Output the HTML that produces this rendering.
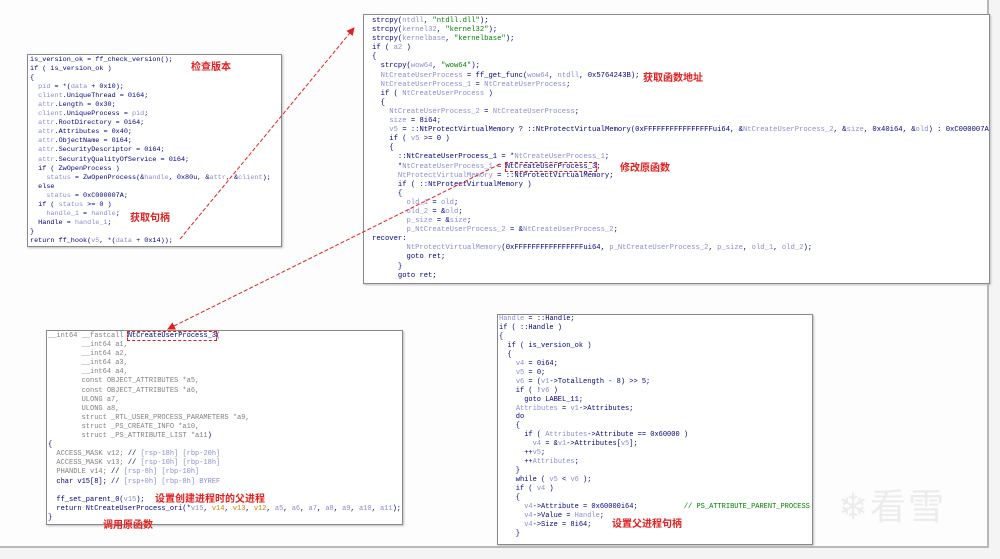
<!DOCTYPE html>
<html><head><meta charset="utf-8"><style>
body{margin:0;width:1000px;height:559px;background:#f4f4f4;position:relative;overflow:hidden;font-family:"Liberation Mono",monospace}
.frame{position:absolute;left:0;top:0;width:987px;height:546px;background:#fdfdfd;border-right:2px solid #b8b8b8;border-bottom:2px solid #b8b8b8}
.box{position:absolute;background:#fff;border:1px solid #8a8a8a;box-shadow:1px 1px 2px #bbb;white-space:pre;color:#000080;overflow:hidden}
.v{color:#8c8cd0}
.g{color:#008000}
.o{color:#d08000}
.gr{color:#808080}
.lab{position:absolute;color:#e02020;font-weight:bold;font-size:10px;font-family:"Liberation Sans","Noto Sans CJK SC",sans-serif;white-space:nowrap}
.hl{outline:1px dashed #e02020;outline-offset:0px}
</style></head><body>
<div class="frame"></div>

<div class="box" style="left:27px;top:54px;width:251px;height:190px;font-size:6.8px;line-height:9.05px;padding:1px 0 0 2px">is_version_ok = ff_check_version();
if ( is_version_ok )
{
  <span class="v">pid</span> = *(<span class="v">data</span> + 0x10);
  <span class="v">client</span>.UniqueThread = 0i64;
  <span class="v">attr</span>.Length = 0x30;
  <span class="v">client</span>.UniqueProcess = <span class="v">pid</span>;
  <span class="v">attr</span>.RootDirectory = 0i64;
  <span class="v">attr</span>.Attributes = 0x40;
  <span class="v">attr</span>.ObjectName = 0i64;
  <span class="v">attr</span>.SecurityDescriptor = 0i64;
  <span class="v">attr</span>.SecurityQualityOfService = 0i64;
  if ( ZwOpenProcess )
    <span class="v">status</span> = ZwOpenProcess(&amp;<span class="v">handle</span>, 0x80u, &amp;<span class="v">attr</span>, &amp;<span class="v">client</span>);
  else
    <span class="v">status</span> = 0xC000007A;
  if ( <span class="v">status</span> &gt;= 0 )
    <span class="v">handle_1</span> = <span class="v">handle</span>;
  Handle = <span class="v">handle_1</span>;
}
return ff_hook(<span class="v">v5</span>, *(<span class="v">data</span> + 0x14));</div>

<div class="box" style="left:363px;top:14px;width:617px;height:266px;font-size:7.2px;line-height:9.1px;padding:2px 0 0 8px">strcpy(<span class="v">ntdll</span>, <span class="g">"ntdll.dll"</span>);
strcpy(<span class="v">kernel32</span>, <span class="g">"kernel32"</span>);
strcpy(<span class="v">kernelbase</span>, <span class="g">"kernelbase"</span>);
if ( <span class="v">a2</span> )
{
  strcpy(<span class="v">wow64</span>, <span class="g">"wow64"</span>);
  <span class="v">NtCreateUserProcess</span> = ff_get_func(<span class="v">wow64</span>, <span class="v">ntdll</span>, 0x5764243B);
  <span class="v">NtCreateUserProcess_1</span> = <span class="v">NtCreateUserProcess</span>;
  if ( <span class="v">NtCreateUserProcess</span> )
  {
    <span class="v">NtCreateUserProcess_2</span> = <span class="v">NtCreateUserProcess</span>;
    <span class="v">size</span> = 8i64;
    <span class="v">v5</span> = ::NtProtectVirtualMemory ? ::NtProtectVirtualMemory(0xFFFFFFFFFFFFFFFFui64, &amp;<span class="v">NtCreateUserProcess_2</span>, &amp;<span class="v">size</span>, 0x40i64, &amp;<span class="v">old</span>) : 0xC000007A;
    if ( <span class="v">v5</span> &gt;= 0 )
    {
      ::NtCreateUserProcess_1 = *<span class="v">NtCreateUserProcess_1</span>;
      *<span class="v">NtCreateUserProcess_1</span> = <span class="hl">NtCreateUserProcess_3</span>;
      <span class="v">NtProtectVirtualMemory</span> = ::NtProtectVirtualMemory;
      if ( ::NtProtectVirtualMemory )
      {
        <span class="v">old_1</span> = <span class="v">old</span>;
        <span class="v">old_2</span> = &amp;<span class="v">old</span>;
        <span class="v">p_size</span> = &amp;<span class="v">size</span>;
        <span class="v">p_NtCreateUserProcess_2</span> = &amp;<span class="v">NtCreateUserProcess_2</span>;
recover:
        <span class="v">NtProtectVirtualMemory</span>(0xFFFFFFFFFFFFFFFFui64, <span class="v">p_NtCreateUserProcess_2</span>, <span class="v">p_size</span>, <span class="v">old_1</span>, <span class="v">old_2</span>);
        goto ret;
      }
      goto ret;</div>

<div class="box" style="left:46px;top:330px;width:354px;height:192px;font-size:7px;line-height:9.1px;padding:1px 0 0 1px"><span class="gr">__int64 __fastcall </span><span class="hl">NtCreateUserProcess_3</span>(
        <span class="gr">__int64 a1,</span>
        <span class="gr">__int64 a2,</span>
        <span class="gr">__int64 a3,</span>
        <span class="gr">__int64 a4,</span>
        <span class="gr">const OBJECT_ATTRIBUTES *a5,</span>
        <span class="gr">const OBJECT_ATTRIBUTES *a6,</span>
        <span class="gr">ULONG a7,</span>
        <span class="gr">ULONG a8,</span>
        <span class="gr">struct _RTL_USER_PROCESS_PARAMETERS *a9,</span>
        <span class="gr">struct _PS_CREATE_INFO *a10,</span>
        <span class="gr">struct _PS_ATTRIBUTE_LIST *a11</span>)
{
  <span class="gr">ACCESS_MASK v12;</span> // <span class="v">[rsp-18h] [rbp-20h]</span>
  <span class="gr">ACCESS_MASK v13;</span> // <span class="v">[rsp-10h] [rbp-18h]</span>
  <span class="gr">PHANDLE v14;</span> // <span class="v">[rsp-8h] [rbp-10h]</span>
  char v15[8]; // <span class="v">[rsp+0h] [rbp-8h] BYREF</span>

  ff_set_parent_0(<span class="v">v15</span>);
  return NtCreateUserProcess_ori(*<span class="v">v15</span>, <span class="o">v14</span>, <span class="o">v13</span>, <span class="o">v12</span>, <span class="v">a5</span>, <span class="v">a6</span>, <span class="v">a7</span>, <span class="v">a8</span>, <span class="v">a9</span>, <span class="v">a10</span>, <span class="v">a11</span>);
}</div>

<div class="box" style="left:497px;top:314px;width:313px;height:229px;font-size:7px;line-height:8.95px;padding:0 0 0 1px"><span class="v">Handle</span> = ::Handle;
if ( ::Handle )
{
  if ( is_version_ok )
  {
    <span class="v">v4</span> = 0i64;
    <span class="v">v5</span> = 0;
    <span class="v">v6</span> = (<span class="v">v1</span>-&gt;TotalLength - 8) &gt;&gt; 5;
    if ( !<span class="v">v6</span> )
      goto LABEL_11;
    <span class="v">Attributes</span> = <span class="v">v1</span>-&gt;Attributes;
    do
    {
      if ( <span class="v">Attributes</span>-&gt;Attribute == 0x60000 )
        <span class="v">v4</span> = &amp;<span class="v">v1</span>-&gt;Attributes[<span class="v">v5</span>];
      ++<span class="v">v5</span>;
      ++<span class="v">Attributes</span>;
    }
    while ( <span class="v">v5</span> &lt; <span class="v">v6</span> );
    if ( <span class="v">v4</span> )
    {
      <span class="v">v4</span>-&gt;Attribute = 0x60000i64;           <span class="g">// PS_ATTRIBUTE_PARENT_PROCESS</span>
      <span class="v">v4</span>-&gt;Value = <span class="v">Handle</span>;
      <span class="v">v4</span>-&gt;Size = 8i64;
    }</div>

<div class="lab" style="left:191px;top:58px">检查版本</div>
<div class="lab" style="left:130px;top:209px">获取句柄</div>
<div class="lab" style="left:643px;top:69px">获取函数地址</div>
<div class="lab" style="left:620px;top:159px">修改原函数</div>
<div class="lab" style="left:155px;top:490px">设置创建进程时的父进程</div>
<div class="lab" style="left:103px;top:516px">调用原函数</div>
<div class="lab" style="left:612px;top:515px">设置父进程句柄</div>

<div style="position:absolute;left:838px;top:478px;font-size:36px;color:#ececec;font-family:'Noto Sans CJK SC',sans-serif;letter-spacing:2px">❄看雪</div>

<svg width="1000" height="559" style="position:absolute;left:0;top:0">
<defs><marker id="a" markerWidth="8" markerHeight="8" refX="7" refY="4" orient="auto"><path d="M0,0 L8,4 L0,8 z" fill="#e02020"/></marker></defs>
<line x1="180" y1="239" x2="354" y2="28" stroke="#e02020" stroke-width="1" stroke-dasharray="4,2" marker-end="url(#a)"/>
<line x1="500" y1="164" x2="168" y2="329" stroke="#e02020" stroke-width="1" stroke-dasharray="4,2" marker-end="url(#a)"/>
</svg>
</body></html>
